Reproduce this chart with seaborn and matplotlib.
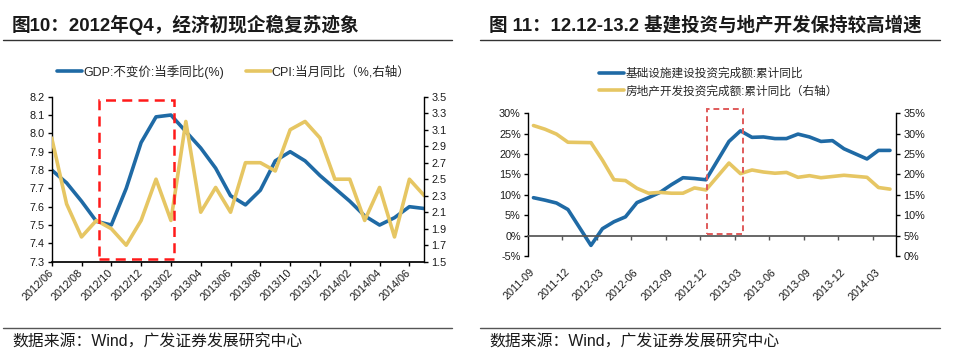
import numpy as np
import matplotlib
matplotlib.use("Agg")
import matplotlib.pyplot as plt
import seaborn as sns
from matplotlib.lines import Line2D
from matplotlib.patches import Rectangle

sns.set_theme(style="white")
plt.rcParams['font.family'] = ['Liberation Sans', 'Noto Sans CJK SC', 'DejaVu Sans']
plt.rcParams['axes.unicode_minus'] = False
plt.rcParams['lines.solid_joinstyle'] = 'round'

BLUE = "#1f6aa5"
YELLOW = "#e6c663"
INK = "#1a1a1a"

# ===================================================================
# Data: figure 10 (monthly positions, 2012/06 - 2014/07)
# ===================================================================
MONTHS_10 = ["2012/06", "2012/07", "2012/08", "2012/09", "2012/10", "2012/11",
             "2012/12", "2013/01", "2013/02", "2013/03", "2013/04", "2013/05",
             "2013/06", "2013/07", "2013/08", "2013/09", "2013/10", "2013/11",
             "2013/12", "2014/01", "2014/02", "2014/03", "2014/04", "2014/05",
             "2014/06", "2014/07"]
# GDP curve, one reading per month
GDP = [7.80, 7.73, 7.63, 7.52, 7.50, 7.70, 7.95, 8.09, 8.10, 8.01, 7.92, 7.81,
       7.66, 7.61, 7.69, 7.85, 7.90, 7.85, 7.77, 7.70, 7.63, 7.55, 7.50, 7.54,
       7.60, 7.59]
CPI = [3.0, 2.2, 1.8, 2.0, 1.9, 1.7, 2.0, 2.5, 2.0, 3.2, 2.1, 2.4, 2.1, 2.7,
       2.7, 2.6, 3.1, 3.2, 3.0, 2.5, 2.5, 2.0, 2.4, 1.8, 2.5, 2.3]
TICKS_10 = ["2012/06", "2012/08", "2012/10", "2012/12", "2013/02", "2013/04",
            "2013/06", "2013/08", "2013/10", "2013/12", "2014/02", "2014/04",
            "2014/06"]

# ===================================================================
# Data: figure 11 (monthly categories, 2011-09 - 2014-04, January missing)
# ===================================================================
MONTHS_11 = ["2011-09", "2011-10", "2011-11", "2011-12", "2012-01", "2012-02",
             "2012-03", "2012-04", "2012-05", "2012-06", "2012-07", "2012-08",
             "2012-09", "2012-10", "2012-11", "2012-12", "2013-01", "2013-02",
             "2013-03", "2013-04", "2013-05", "2013-06", "2013-07", "2013-08",
             "2013-09", "2013-10", "2013-11", "2013-12", "2014-01", "2014-02",
             "2014-03", "2014-04"]
INFRA = [9.3, 8.7, 8.0, 6.4, np.nan, -2.4, 1.7, 3.4, 4.6, 8.1, 9.3, 10.6,
         12.5, 14.2, 14.0, 13.7, np.nan, 23.1, 25.7, 24.1, 24.2, 23.8, 23.8, 24.9,
         24.2, 23.1, 23.3, 21.3, np.nan, 18.8, 20.9, 20.9]
REALTY = [32.0, 31.1, 29.9, 27.9, np.nan, 27.8, 23.5, 18.7, 18.5, 16.6, 15.4, 15.6,
          15.4, 15.4, 16.7, 16.2, np.nan, 22.8, 20.2, 21.1, 20.6, 20.3, 20.5, 19.3,
          19.7, 19.2, 19.5, 19.8, np.nan, 19.3, 16.8, 16.4]
TICKS_11 = ["2011-09", "2011-12", "2012-03", "2012-06", "2012-09", "2012-12",
            "2013-03", "2013-06", "2013-09", "2013-12", "2014-03"]

# highlighted windows (month position, value on the right axis)
BOX_10 = (3.2, 8.2, 1.53, 3.46)
BOX_11 = (15.07, 18.2, 5.4, 36.0)

fig = plt.figure(figsize=(9.54, 3.62), dpi=100)


def frame(x0, x1, title, title_size):
    fig.text(x0 + 12 / 954, 1 - 25 / 362, title, fontsize=title_size,
             fontweight="bold", color=INK, va="center", ha="left")
    fig.add_artist(Line2D([x0 + 3 / 954, x1], [1 - 39.5 / 362] * 2,
                          transform=fig.transFigure, color="#333333", lw=1))
    fig.add_artist(Line2D([x0 + 3 / 954, x1], [1 - 327.7 / 362] * 2,
                          transform=fig.transFigure, color="#555555", lw=1))
    fig.text(x0 + 12 / 954, 1 - 341.5 / 362, "数据来源：Wind，广发证券发展研究中心",
             fontsize=11.4, color=INK, va="center", ha="left")


def style_axis(ax, side):
    for s in ax.spines.values():
        s.set_visible(False)
    ax.spines[side].set_visible(True)
    ax.spines[side].set_color("black")
    ax.spines[side].set_linewidth(1)
    ax.tick_params(axis="y", which="both", direction="out", length=3, width=1,
                   color="black", labelsize=7.8, labelcolor=INK, pad=2,
                   left=(side == "left"), right=(side == "right"),
                   labelleft=(side == "left"), labelright=(side == "right"))
    ax.grid(False)
    ax.set_xlabel("")
    ax.set_ylabel("")


# ===================================================================
# Figure 10
# ===================================================================
frame(0, 452 / 954, "图10：2012年Q4，经济初现企稳复苏迹象", 13.4)

x10 = np.arange(len(MONTHS_10))
ax1 = fig.add_axes([51.7 / 954, 1 - 261.7 / 362, 372.6 / 954, 165 / 362])
ax1.set_facecolor("none")
sns.lineplot(x=x10, y=GDP, ax=ax1, color=BLUE, lw=2.6)
ax1.set_xlim(0, 25)
ax1.set_ylim(7.3, 8.2)
ax1.set_yticks(np.arange(7.3, 8.21, 0.1))
ax1.yaxis.set_major_formatter(lambda v, p: f"{v:.1f}")
style_axis(ax1, "left")
ax1.spines["bottom"].set_visible(True)
ax1.spines["bottom"].set_color("black")
ax1.set_xticks([MONTHS_10.index(t) for t in TICKS_10])
ax1.set_xticklabels(TICKS_10, rotation=45, ha="right", va="center",
                    rotation_mode="anchor", fontsize=7.8, color=INK)
ax1.tick_params(axis="x", direction="out", length=3, width=1, color="black",
                bottom=True, pad=4)

ax1b = ax1.twinx()
sns.lineplot(x=x10, y=CPI, ax=ax1b, color=YELLOW, lw=2.6)
ax1b.set_ylim(1.5, 3.5)
ax1b.set_yticks(np.arange(1.5, 3.51, 0.2))
ax1b.yaxis.set_major_formatter(lambda v, p: f"{v:.1f}")
style_axis(ax1b, "right")
ax1b.add_patch(Rectangle((BOX_10[0], BOX_10[2]), BOX_10[1] - BOX_10[0],
                         BOX_10[3] - BOX_10[2], fill=False, ec="#ff1a1a",
                         lw=1.8, ls=(0, (4, 2.5)), clip_on=False, zorder=5))

fig.legend(handles=[Line2D([], [], color=BLUE, lw=2.6),
                    Line2D([], [], color=YELLOW, lw=2.6)],
           labels=["GDP:不变价:当季同比(%)", "CPI:当月同比（%,右轴）"],
           loc="center", bbox_to_anchor=(234 / 954, 1 - 71.7 / 362), ncol=2,
           frameon=False, fontsize=9, handlelength=2.0, handletextpad=0.1,
           columnspacing=1.7, borderpad=0)

# ===================================================================
# Figure 11
# ===================================================================
frame(477 / 954, 940 / 954, "图 11：12.12-13.2 基建投资与地产开发保持较高增速", 13.3)

x11 = np.arange(len(MONTHS_11))
ax2 = fig.add_axes([527.7 / 954, 1 - 256 / 362, 368.6 / 954, 142.7 / 362])
ax2.set_facecolor("none")
sns.lineplot(x=x11, y=INFRA, ax=ax2, color=BLUE, lw=2.6)
ax2.set_xlim(-0.5, 31.55)
ax2.set_ylim(-5, 30)
ax2.set_yticks(np.arange(-5, 31, 5))
ax2.yaxis.set_major_formatter(lambda v, p: f"{v:.0f}%")
style_axis(ax2, "left")
ax2.spines["bottom"].set_visible(True)
ax2.spines["bottom"].set_position(("data", 0))
ax2.spines["bottom"].set_color("#555555")
ax2.set_xticks([MONTHS_11.index(t) for t in TICKS_11])
ax2.set_xticklabels(TICKS_11, rotation=45, ha="right", va="center",
                    rotation_mode="anchor", fontsize=7.8, color=INK)
ax2.set_xticks(np.arange(2.5, 30, 3), minor=True)
ax2.tick_params(axis="x", which="major", length=0, bottom=True, pad=25)
ax2.tick_params(axis="x", which="minor", direction="out", length=3, width=1,
                color="#555555", bottom=True)

ax2b = ax2.twinx()
sns.lineplot(x=x11, y=REALTY, ax=ax2b, color=YELLOW, lw=2.6)
ax2b.set_ylim(0, 35)
ax2b.set_yticks(np.arange(0, 36, 5))
ax2b.yaxis.set_major_formatter(lambda v, p: f"{v:.0f}%")
style_axis(ax2b, "right")
ax2b.add_patch(Rectangle((BOX_11[0], BOX_11[2]), BOX_11[1] - BOX_11[0],
                         BOX_11[3] - BOX_11[2], fill=False, ec="#e05a5a",
                         lw=1.4, ls=(0, (3, 2)), clip_on=False, zorder=5))

fig.legend(handles=[Line2D([], [], color=BLUE, lw=2.6),
                    Line2D([], [], color=YELLOW, lw=2.6)],
           labels=["基础设施建设投资完成额:累计同比", "房地产开发投资完成额:累计同比（右轴）"],
           loc="center left", bbox_to_anchor=(593 / 954, 1 - 82.7 / 362), ncol=1,
           frameon=False, fontsize=8.4, handlelength=2.2, handletextpad=0.1,
           labelspacing=0.45, borderpad=0)

fig.savefig("out.png", dpi=100)
